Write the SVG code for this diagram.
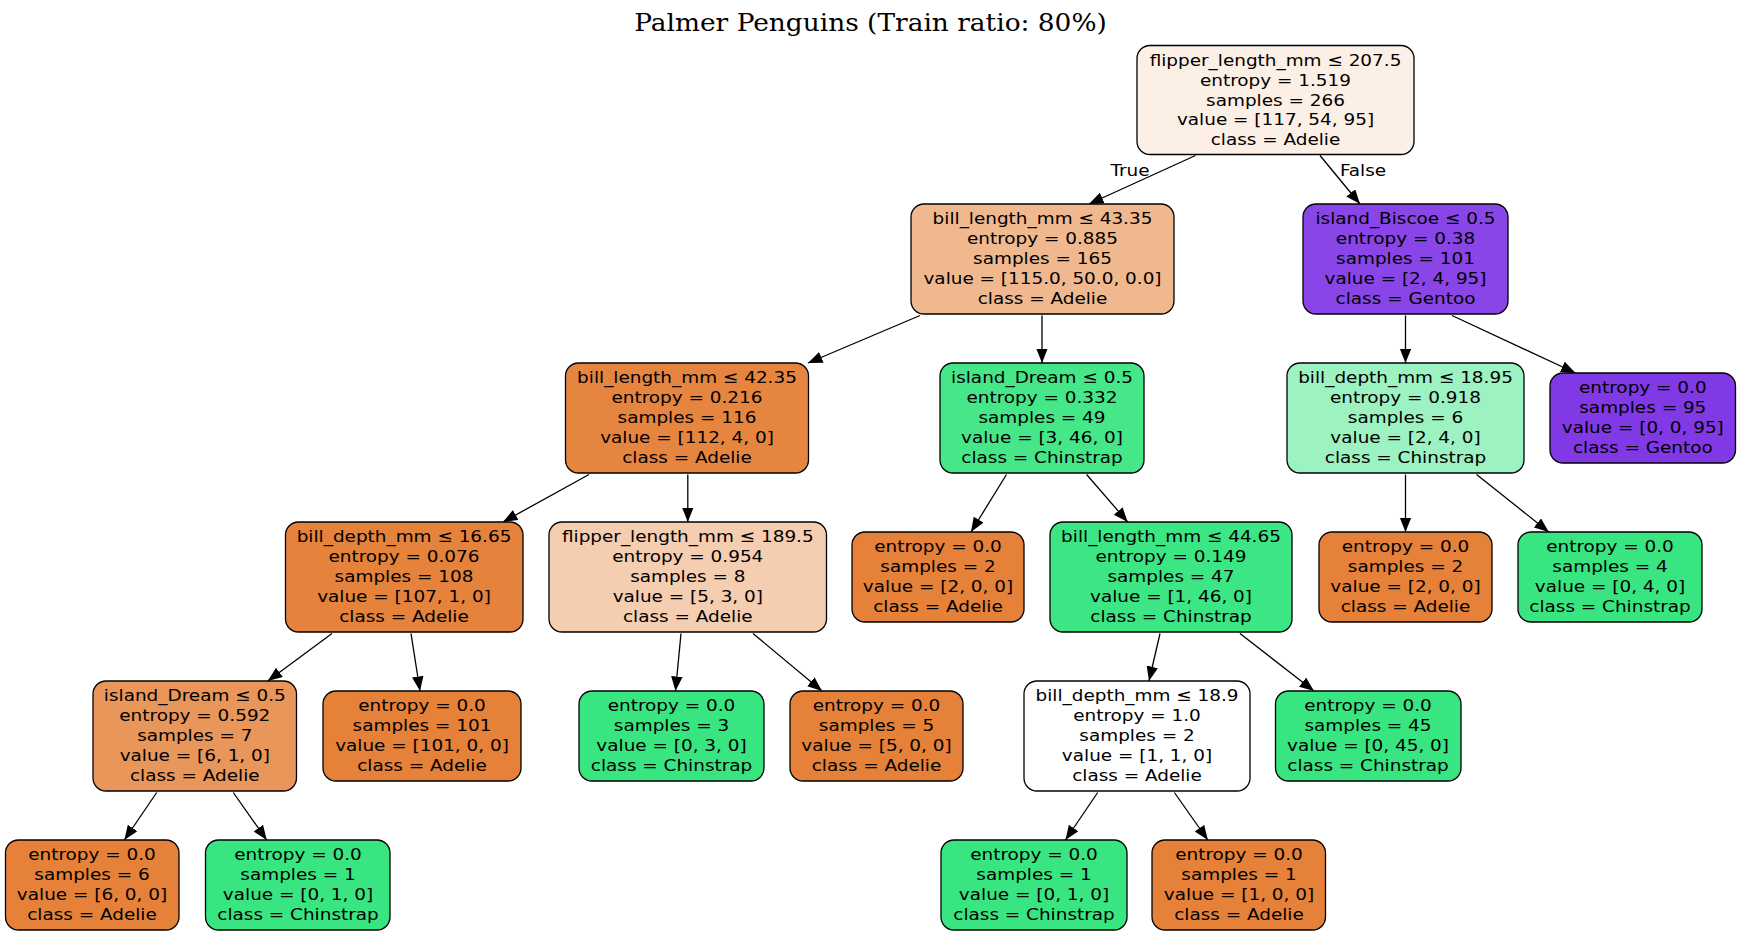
<svg xmlns="http://www.w3.org/2000/svg" width="1741" height="935" viewBox="0 0 1741 935">
<defs>
<style>
.n{stroke:#000;stroke-width:1.3}
.t{font-family:"DejaVu Sans",sans-serif;font-size:16.6px;text-anchor:middle;fill:#000}
.ttl{font-family:"DejaVu Serif",serif;font-size:23.8px;text-anchor:middle;fill:#000}
.e{stroke:#000;stroke-width:1.3;fill:none;marker-end:url(#ah)}
</style>
<marker id="ah" markerUnits="userSpaceOnUse" markerWidth="16" markerHeight="13" refX="14.5" refY="5.75" orient="auto">
<path d="M0,0 L14.5,5.75 L0,11.5 z" fill="#000"/>
</marker>
</defs>
<rect width="1741" height="935" fill="#fff"/>
<text class="ttl" transform="translate(870.5,0) scale(1.11,1)" x="0" y="31">Palmer Penguins (Train ratio: 80%)</text>

<g id="connectors">
<line class="e" x1="1195.5" y1="155.5" x2="1089" y2="204"/>
<line class="e" x1="1320" y1="155.5" x2="1360" y2="204"/>
<line class="e" x1="920" y1="315.5" x2="808" y2="363"/>
<line class="e" x1="1042" y1="315.5" x2="1042" y2="363"/>
<line class="e" x1="1405.5" y1="315.5" x2="1405.5" y2="363"/>
<line class="e" x1="1452" y1="315.5" x2="1575.5" y2="373"/>
<line class="e" x1="589" y1="474.5" x2="503" y2="522"/>
<line class="e" x1="687.8" y1="474.5" x2="687.8" y2="522"/>
<line class="e" x1="1006.5" y1="474.5" x2="971" y2="532"/>
<line class="e" x1="1086.6" y1="474.5" x2="1127.7" y2="522"/>
<line class="e" x1="1405.5" y1="474.5" x2="1405.5" y2="532"/>
<line class="e" x1="1476.6" y1="474.5" x2="1548.8" y2="532"/>
<line class="e" x1="332" y1="633.5" x2="267.8" y2="681"/>
<line class="e" x1="411" y1="633.5" x2="420" y2="691"/>
<line class="e" x1="681" y1="633.5" x2="675.5" y2="691"/>
<line class="e" x1="753" y1="633.5" x2="822" y2="691"/>
<line class="e" x1="1160" y1="633.5" x2="1149" y2="681"/>
<line class="e" x1="1240" y1="633.5" x2="1314" y2="691"/>
<line class="e" x1="156.7" y1="792.5" x2="124.4" y2="840"/>
<line class="e" x1="233.3" y1="792.5" x2="266.7" y2="840"/>
<line class="e" x1="1097.7" y1="792.5" x2="1065.5" y2="840"/>
<line class="e" x1="1174.4" y1="792.5" x2="1207.8" y2="840"/>
<text class="t" transform="translate(1130,0) scale(1.11,1)" x="0" y="176">True</text>
<text class="t" transform="translate(1363,0) scale(1.11,1)" x="0" y="176">False</text>
</g>

<g id="node0">
<rect class="n" x="1137" y="45.5" width="277" height="109" rx="13" fill="#fcefe5"/>
<text class="t" transform="translate(1275.5,0) scale(1.11,1)"><tspan x="0" y="66">flipper_length_mm ≤ 207.5</tspan><tspan x="0" y="85.8">entropy = 1.519</tspan><tspan x="0" y="105.6">samples = 266</tspan><tspan x="0" y="125.4">value = [117, 54, 95]</tspan><tspan x="0" y="145.2">class = Adelie</tspan></text>
</g>

<g id="node1">
<rect class="n" x="911" y="204" width="263" height="110" rx="13" fill="#f0b88f"/>
<text class="t" transform="translate(1042.5,0) scale(1.11,1)"><tspan x="0" y="224.5">bill_length_mm ≤ 43.35</tspan><tspan x="0" y="244.3">entropy = 0.885</tspan><tspan x="0" y="264.1">samples = 165</tspan><tspan x="0" y="283.9">value = [115.0, 50.0, 0.0]</tspan><tspan x="0" y="303.7">class = Adelie</tspan></text>
</g>

<g id="node2">
<rect class="n" x="1303" y="204" width="205" height="110" rx="13" fill="#8945e7"/>
<text class="t" transform="translate(1405.5,0) scale(1.11,1)"><tspan x="0" y="224.5">island_Biscoe ≤ 0.5</tspan><tspan x="0" y="244.3">entropy = 0.38</tspan><tspan x="0" y="264.1">samples = 101</tspan><tspan x="0" y="283.9">value = [2, 4, 95]</tspan><tspan x="0" y="303.7">class = Gentoo</tspan></text>
</g>

<g id="node3">
<rect class="n" x="565.5" y="363" width="243" height="110" rx="13" fill="#e68540"/>
<text class="t" transform="translate(687,0) scale(1.11,1)"><tspan x="0" y="383.5">bill_length_mm ≤ 42.35</tspan><tspan x="0" y="403.3">entropy = 0.216</tspan><tspan x="0" y="423.1">samples = 116</tspan><tspan x="0" y="442.9">value = [112, 4, 0]</tspan><tspan x="0" y="462.7">class = Adelie</tspan></text>
</g>

<g id="node4">
<rect class="n" x="940" y="363" width="204" height="110" rx="13" fill="#46e789"/>
<text class="t" transform="translate(1042,0) scale(1.11,1)"><tspan x="0" y="383.5">island_Dream ≤ 0.5</tspan><tspan x="0" y="403.3">entropy = 0.332</tspan><tspan x="0" y="423.1">samples = 49</tspan><tspan x="0" y="442.9">value = [3, 46, 0]</tspan><tspan x="0" y="462.7">class = Chinstrap</tspan></text>
</g>

<g id="node5">
<rect class="n" x="1287" y="363" width="237" height="110" rx="13" fill="#9cf2c0"/>
<text class="t" transform="translate(1405.5,0) scale(1.11,1)"><tspan x="0" y="383.5">bill_depth_mm ≤ 18.95</tspan><tspan x="0" y="403.3">entropy = 0.918</tspan><tspan x="0" y="423.1">samples = 6</tspan><tspan x="0" y="442.9">value = [2, 4, 0]</tspan><tspan x="0" y="462.7">class = Chinstrap</tspan></text>
</g>

<g id="node6">
<rect class="n" x="1550" y="373" width="185.5" height="90" rx="13" fill="#8139e5"/>
<text class="t" transform="translate(1642.8,0) scale(1.11,1)"><tspan x="0" y="393.5">entropy = 0.0</tspan><tspan x="0" y="413.3">samples = 95</tspan><tspan x="0" y="433.1">value = [0, 0, 95]</tspan><tspan x="0" y="452.9">class = Gentoo</tspan></text>
</g>

<g id="node7">
<rect class="n" x="285.5" y="522" width="237.5" height="110" rx="13" fill="#e5823b"/>
<text class="t" transform="translate(404,0) scale(1.11,1)"><tspan x="0" y="542.5">bill_depth_mm ≤ 16.65</tspan><tspan x="0" y="562.3">entropy = 0.076</tspan><tspan x="0" y="582.1">samples = 108</tspan><tspan x="0" y="601.9">value = [107, 1, 0]</tspan><tspan x="0" y="621.7">class = Adelie</tspan></text>
</g>

<g id="node8">
<rect class="n" x="549" y="522" width="277.5" height="110" rx="13" fill="#f5cdb0"/>
<text class="t" transform="translate(687.8,0) scale(1.11,1)"><tspan x="0" y="542.5">flipper_length_mm ≤ 189.5</tspan><tspan x="0" y="562.3">entropy = 0.954</tspan><tspan x="0" y="582.1">samples = 8</tspan><tspan x="0" y="601.9">value = [5, 3, 0]</tspan><tspan x="0" y="621.7">class = Adelie</tspan></text>
</g>

<g id="node9">
<rect class="n" x="852" y="532" width="172" height="90" rx="13" fill="#e58139"/>
<text class="t" transform="translate(938,0) scale(1.11,1)"><tspan x="0" y="552.5">entropy = 0.0</tspan><tspan x="0" y="572.3">samples = 2</tspan><tspan x="0" y="592.1">value = [2, 0, 0]</tspan><tspan x="0" y="611.9">class = Adelie</tspan></text>
</g>

<g id="node10">
<rect class="n" x="1050" y="522" width="242" height="110" rx="13" fill="#3de684"/>
<text class="t" transform="translate(1171,0) scale(1.11,1)"><tspan x="0" y="542.5">bill_length_mm ≤ 44.65</tspan><tspan x="0" y="562.3">entropy = 0.149</tspan><tspan x="0" y="582.1">samples = 47</tspan><tspan x="0" y="601.9">value = [1, 46, 0]</tspan><tspan x="0" y="621.7">class = Chinstrap</tspan></text>
</g>

<g id="node11">
<rect class="n" x="1319" y="532" width="173" height="90" rx="13" fill="#e58139"/>
<text class="t" transform="translate(1405.5,0) scale(1.11,1)"><tspan x="0" y="552.5">entropy = 0.0</tspan><tspan x="0" y="572.3">samples = 2</tspan><tspan x="0" y="592.1">value = [2, 0, 0]</tspan><tspan x="0" y="611.9">class = Adelie</tspan></text>
</g>

<g id="node12">
<rect class="n" x="1518" y="532" width="184" height="90" rx="13" fill="#39e581"/>
<text class="t" transform="translate(1610,0) scale(1.11,1)"><tspan x="0" y="552.5">entropy = 0.0</tspan><tspan x="0" y="572.3">samples = 4</tspan><tspan x="0" y="592.1">value = [0, 4, 0]</tspan><tspan x="0" y="611.9">class = Chinstrap</tspan></text>
</g>

<g id="node13">
<rect class="n" x="93" y="681" width="203.5" height="110" rx="13" fill="#e9965a"/>
<text class="t" transform="translate(194.8,0) scale(1.11,1)"><tspan x="0" y="701.5">island_Dream ≤ 0.5</tspan><tspan x="0" y="721.3">entropy = 0.592</tspan><tspan x="0" y="741.1">samples = 7</tspan><tspan x="0" y="760.9">value = [6, 1, 0]</tspan><tspan x="0" y="780.7">class = Adelie</tspan></text>
</g>

<g id="node14">
<rect class="n" x="323" y="691" width="198" height="90" rx="13" fill="#e58139"/>
<text class="t" transform="translate(422,0) scale(1.11,1)"><tspan x="0" y="711.5">entropy = 0.0</tspan><tspan x="0" y="731.3">samples = 101</tspan><tspan x="0" y="751.1">value = [101, 0, 0]</tspan><tspan x="0" y="770.9">class = Adelie</tspan></text>
</g>

<g id="node15">
<rect class="n" x="579" y="691" width="185" height="90" rx="13" fill="#39e581"/>
<text class="t" transform="translate(671.5,0) scale(1.11,1)"><tspan x="0" y="711.5">entropy = 0.0</tspan><tspan x="0" y="731.3">samples = 3</tspan><tspan x="0" y="751.1">value = [0, 3, 0]</tspan><tspan x="0" y="770.9">class = Chinstrap</tspan></text>
</g>

<g id="node16">
<rect class="n" x="790" y="691" width="173" height="90" rx="13" fill="#e58139"/>
<text class="t" transform="translate(876.5,0) scale(1.11,1)"><tspan x="0" y="711.5">entropy = 0.0</tspan><tspan x="0" y="731.3">samples = 5</tspan><tspan x="0" y="751.1">value = [5, 0, 0]</tspan><tspan x="0" y="770.9">class = Adelie</tspan></text>
</g>

<g id="node17">
<rect class="n" x="1024" y="681" width="226" height="110" rx="13" fill="#ffffff"/>
<text class="t" transform="translate(1137,0) scale(1.11,1)"><tspan x="0" y="701.5">bill_depth_mm ≤ 18.9</tspan><tspan x="0" y="721.3">entropy = 1.0</tspan><tspan x="0" y="741.1">samples = 2</tspan><tspan x="0" y="760.9">value = [1, 1, 0]</tspan><tspan x="0" y="780.7">class = Adelie</tspan></text>
</g>

<g id="node18">
<rect class="n" x="1275.5" y="691" width="185.5" height="90" rx="13" fill="#39e581"/>
<text class="t" transform="translate(1368,0) scale(1.11,1)"><tspan x="0" y="711.5">entropy = 0.0</tspan><tspan x="0" y="731.3">samples = 45</tspan><tspan x="0" y="751.1">value = [0, 45, 0]</tspan><tspan x="0" y="770.9">class = Chinstrap</tspan></text>
</g>

<g id="node19">
<rect class="n" x="5.5" y="840" width="173.5" height="90" rx="13" fill="#e58139"/>
<text class="t" transform="translate(92,0) scale(1.11,1)"><tspan x="0" y="860.5">entropy = 0.0</tspan><tspan x="0" y="880.3">samples = 6</tspan><tspan x="0" y="900.1">value = [6, 0, 0]</tspan><tspan x="0" y="919.9">class = Adelie</tspan></text>
</g>

<g id="node20">
<rect class="n" x="205.5" y="840" width="184.5" height="90" rx="13" fill="#39e581"/>
<text class="t" transform="translate(298,0) scale(1.11,1)"><tspan x="0" y="860.5">entropy = 0.0</tspan><tspan x="0" y="880.3">samples = 1</tspan><tspan x="0" y="900.1">value = [0, 1, 0]</tspan><tspan x="0" y="919.9">class = Chinstrap</tspan></text>
</g>

<g id="node21">
<rect class="n" x="941" y="840" width="186" height="90" rx="13" fill="#39e581"/>
<text class="t" transform="translate(1034,0) scale(1.11,1)"><tspan x="0" y="860.5">entropy = 0.0</tspan><tspan x="0" y="880.3">samples = 1</tspan><tspan x="0" y="900.1">value = [0, 1, 0]</tspan><tspan x="0" y="919.9">class = Chinstrap</tspan></text>
</g>

<g id="node22">
<rect class="n" x="1152" y="840" width="173.5" height="90" rx="13" fill="#e58139"/>
<text class="t" transform="translate(1239,0) scale(1.11,1)"><tspan x="0" y="860.5">entropy = 0.0</tspan><tspan x="0" y="880.3">samples = 1</tspan><tspan x="0" y="900.1">value = [1, 0, 0]</tspan><tspan x="0" y="919.9">class = Adelie</tspan></text>
</g>
</svg>
